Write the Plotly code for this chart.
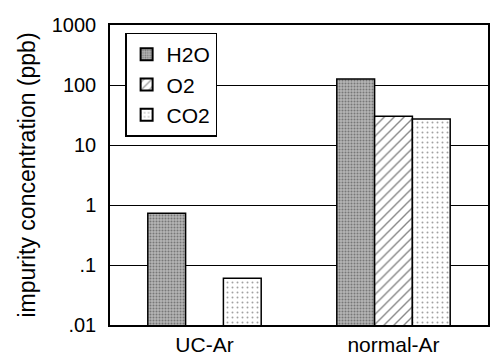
import plotly.graph_objects as go

categories = ["UC-Ar", "normal-Ar"]
h2o = [0.73, 126]
o2 = [None, 30]
co2 = [0.06, 27]
tick_vals = [0.01, 0.1, 1, 10, 100, 1000]
tick_text = [".01", ".1", "1", "10", "100", "1000"]

font = "Liberation Sans, Arial, sans-serif"

fig = go.Figure()
fig.add_trace(go.Bar(
    name="H2O", x=categories, y=h2o,
    marker=dict(color="#b4b4b4", line=dict(color="black", width=1.5),
                pattern=dict(shape=".", fgcolor="#3a3a3a", size=3, solidity=0.35)),
))
fig.add_trace(go.Bar(
    name="O2", x=categories, y=o2,
    marker=dict(color="white", line=dict(color="black", width=1.5),
                pattern=dict(shape="/", fgcolor="#111111", size=7, solidity=0.2)),
))
fig.add_trace(go.Bar(
    name="CO2", x=categories, y=co2,
    marker=dict(color="white", line=dict(color="black", width=1.5),
                pattern=dict(shape=".", fgcolor="#444444", size=5, solidity=0.12)),
))

fig.update_layout(
    width=492, height=358,
    margin=dict(l=110, r=2, t=25, b=33),
    paper_bgcolor="white", plot_bgcolor="white",
    barmode="group", bargap=0.4, bargroupgap=0,
    font=dict(family=font, color="black"),
    showlegend=True,
    legend=dict(x=0.04, y=0.975, xanchor="left", yanchor="top",
                bordercolor="black", borderwidth=1.5, bgcolor="white",
                font=dict(size=21, family=font), tracegroupgap=3,
                itemsizing="constant"),
    xaxis=dict(showline=True, mirror=True, linecolor="black", linewidth=1.5,
               ticks="", tickfont=dict(size=21, family=font)),
    yaxis=dict(type="log", range=[-2, 3], tickvals=tick_vals, ticktext=tick_text,
               showline=True, mirror=True, linecolor="black", linewidth=1.5,
               showgrid=True, gridcolor="black", gridwidth=1,
               ticks="", ticklabelstandoff=8, tickfont=dict(size=20, family=font),
               title=dict(text="impurity concentration (ppb)", font=dict(size=23, family=font),
                          standoff=10)),
)

fig.write_html("out.html")
